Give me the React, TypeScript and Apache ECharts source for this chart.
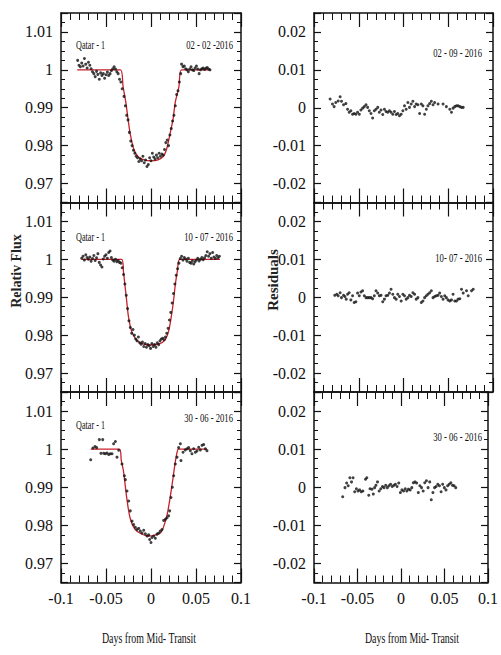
import React, { useEffect, useRef } from 'react';
import * as echarts from 'echarts';

// ---------- data ----------
const flux1: [number, number][] = [
  [-0.0815, 1.0025], [-0.08, 1.0012], [-0.0785, 1.0008], [-0.077, 1.0018], [-0.0755, 1.001], [-0.074, 1.003],
  [-0.0725, 1.0015], [-0.071, 1.0005], [-0.0695, 1.002], [-0.068, 1.0012], [-0.0665, 1.0003], [-0.065, 0.9995],
  [-0.0635, 0.999], [-0.062, 0.9982], [-0.0605, 0.9996], [-0.059, 0.9988], [-0.0575, 0.9975], [-0.056, 0.9992],
  [-0.0545, 0.9985], [-0.053, 0.999], [-0.0515, 0.9978], [-0.05, 0.9987], [-0.0485, 0.9994], [-0.047, 0.9985],
  [-0.0455, 0.999], [-0.044, 0.9998], [-0.0425, 1.0003], [-0.041, 1.0008], [-0.0395, 1.0002], [-0.038, 0.9995],
  [-0.0365, 0.999], [-0.035, 0.9975], [-0.0335, 0.9968], [-0.032, 0.995], [-0.03, 0.993], [-0.0285, 0.9905],
  [-0.027, 0.988], [-0.0255, 0.9868], [-0.024, 0.9835], [-0.0225, 0.9812], [-0.021, 0.98], [-0.0195, 0.9788],
  [-0.018, 0.978], [-0.0165, 0.9772], [-0.015, 0.9768], [-0.0135, 0.9758], [-0.012, 0.9765], [-0.0105, 0.976],
  [-0.009, 0.9772], [-0.0075, 0.9755], [-0.006, 0.9762], [-0.0045, 0.9745], [-0.003, 0.975], [-0.0015, 0.9768],
  [0, 0.976], [0.0015, 0.978], [0.003, 0.977], [0.0045, 0.9765], [0.006, 0.9775], [0.0075, 0.9768],
  [0.009, 0.978], [0.0105, 0.9772], [0.012, 0.9778], [0.0135, 0.9775], [0.015, 0.979], [0.0165, 0.9808],
  [0.018, 0.9815], [0.0195, 0.98], [0.021, 0.9828], [0.0225, 0.9845], [0.024, 0.9865], [0.0255, 0.988],
  [0.027, 0.9905], [0.0285, 0.9935], [0.03, 0.9945], [0.0315, 0.9968], [0.033, 0.999], [0.034, 1.0015],
  [0.0355, 1.0008], [0.037, 1.001], [0.0385, 1.0003], [0.04, 1.0], [0.0415, 0.9995], [0.043, 1.0002],
  [0.0445, 1.0008], [0.046, 1.0], [0.0475, 0.9998], [0.049, 1.0005], [0.0505, 1.001], [0.052, 1.0002],
  [0.0535, 0.999], [0.055, 1.0], [0.0565, 1.0003], [0.058, 1.0005], [0.0595, 1.0001], [0.061, 1.0004],
  [0.0625, 1.0006], [0.064, 1.0002], [0.0655, 1.0],
];
const model1: [number, number][] = [
  [-0.082, 1.0], [-0.034, 1.0], [-0.031, 0.9955], [-0.028, 0.9915], [-0.0255, 0.987], [-0.023, 0.983],
  [-0.019, 0.979], [-0.014, 0.977], [-0.007, 0.9762], [0, 0.976], [0.007, 0.9762], [0.013, 0.977],
  [0.017, 0.9788], [0.021, 0.983], [0.0245, 0.987], [0.027, 0.9915], [0.031, 0.9955], [0.034, 1.0], [0.066, 1.0],
];
const resid1: [number, number][] = [
  [-0.082, 0.0023], [-0.0794, 0.001], [-0.0775, 0.0003], [-0.0757, 0.0014], [-0.073, 0.0018], [-0.0708, 0.0029],
  [-0.0693, 0.0017], [-0.067, 0.0008], [-0.0644, 0.0011], [-0.0625, -0.0004], [-0.0607, -0.0012], [-0.0588, -0.0008],
  [-0.0569, -0.0017], [-0.0551, -0.0015], [-0.0532, -0.0017], [-0.0513, -0.0012], [-0.0494, -0.0017], [-0.0476, -0.0006],
  [-0.0457, -0.0001], [-0.0438, 0.0003], [-0.0419, 0.0008], [-0.0401, 0.0001], [-0.0382, -0.0008], [-0.0363, -0.0015],
  [-0.0345, -0.0027], [-0.0326, -0.0008], [-0.0307, -0.0004], [-0.0288, 0.0001], [-0.027, -0.0012], [-0.0251, -0.0006],
  [-0.0232, -0.0018], [-0.0213, -0.0004], [-0.0195, -0.001], [-0.0176, -0.0012], [-0.0157, -0.0008], [-0.0139, -0.0012],
  [-0.012, -0.0017], [-0.0101, -0.001], [-0.0082, -0.0018], [-0.0064, -0.0015], [-0.0045, -0.0021], [-0.0026, -0.0017],
  [-0.0007, -0.0008], [0.0011, 0.0005], [0.003, -0.0004], [0.0049, 0.0014], [0.0067, 0.0001], [0.0086, 0.001],
  [0.0105, 0.0017], [0.0124, 0.0003], [0.0142, 0.001], [0.0161, 0.0008], [0.018, -0.0015], [0.0199, 0.001],
  [0.0217, 0.0005], [0.0236, -0.0017], [0.0255, -0.0004], [0.0273, 0.0005], [0.0292, 0.0011], [0.0311, 0.0017],
  [0.033, 0.0008], [0.0348, 0.0014], [0.0386, 0.001], [0.0442, 0.001], [0.0479, 0.0003], [0.0517, -0.0004],
  [0.0536, -0.0012], [0.0554, -0.0001], [0.0573, 0.0003], [0.0592, 0.0005], [0.061, 0.0005], [0.0629, 0.0003],
  [0.0648, 0.0001], [0.0667, 0.0001],
];

const flux2: [number, number][] = [
  [-0.077, 1.0003], [-0.0755, 1.0008], [-0.074, 0.9998], [-0.0725, 1.0012], [-0.071, 1.0005], [-0.0695, 1.0],
  [-0.068, 1.0006], [-0.0665, 0.9995], [-0.065, 1.0002], [-0.0635, 1.001], [-0.062, 0.9997], [-0.0605, 1.0004],
  [-0.059, 1.0015], [-0.0575, 0.9992], [-0.056, 0.9985], [-0.0545, 0.998], [-0.053, 1.0001], [-0.0515, 1.0008],
  [-0.05, 1.0012], [-0.0485, 1.0003], [-0.047, 1.0018], [-0.0455, 1.0022], [-0.044, 1.0005], [-0.0425, 0.9998],
  [-0.041, 0.9995], [-0.0395, 1.0], [-0.038, 0.9994], [-0.0365, 0.9997], [-0.035, 0.9992], [-0.0335, 0.999],
  [-0.032, 0.9978], [-0.0305, 0.996], [-0.029, 0.9935], [-0.0275, 0.9905], [-0.026, 0.987], [-0.0245, 0.9838],
  [-0.023, 0.982], [-0.0215, 0.9805], [-0.02, 0.9815], [-0.0185, 0.98], [-0.017, 0.979], [-0.0155, 0.9785],
  [-0.014, 0.9795], [-0.0125, 0.978], [-0.011, 0.9776], [-0.0095, 0.9782], [-0.008, 0.977], [-0.0065, 0.9778],
  [-0.005, 0.9768], [-0.0035, 0.9775], [-0.002, 0.9772], [-0.0005, 0.9765], [0.001, 0.9778], [0.0025, 0.977],
  [0.004, 0.9775], [0.0055, 0.9768], [0.007, 0.978], [0.0085, 0.9775], [0.01, 0.9785], [0.0115, 0.979],
  [0.013, 0.9792], [0.0145, 0.9788], [0.016, 0.9795], [0.0175, 0.9805], [0.019, 0.9818], [0.0205, 0.984],
  [0.022, 0.986], [0.0235, 0.9885], [0.025, 0.991], [0.0265, 0.9935], [0.028, 0.9958], [0.0295, 0.9975],
  [0.031, 0.999], [0.0325, 1.0002], [0.034, 1.0008], [0.0355, 0.9998], [0.037, 1.0005], [0.0385, 1.0001],
  [0.04, 0.9995], [0.0415, 1.0003], [0.043, 0.9992], [0.0445, 0.999], [0.046, 0.9996], [0.0475, 0.9988],
  [0.049, 0.9994], [0.0505, 0.9998], [0.052, 1.0003], [0.0535, 0.9996], [0.055, 1.0], [0.0565, 1.0005],
  [0.058, 0.9999], [0.0595, 1.0004], [0.061, 1.001], [0.0625, 1.002], [0.064, 1.0008], [0.0655, 1.0015],
  [0.067, 1.0003], [0.0685, 1.0018], [0.07, 1.0006], [0.0715, 1.0002], [0.073, 1.001], [0.0745, 1.0004],
  [0.076, 1.0008],
];
const model2: [number, number][] = [
  [-0.077, 1.0], [-0.0326, 1.0], [-0.0305, 0.9965], [-0.029, 0.9933], [-0.027, 0.989], [-0.025, 0.9848],
  [-0.0215, 0.981], [-0.016, 0.9787], [-0.009, 0.9777], [0, 0.9774], [0.009, 0.9777], [0.0155, 0.9787],
  [0.0195, 0.981], [0.0225, 0.9848], [0.025, 0.989], [0.027, 0.9933], [0.0295, 0.9972], [0.032, 1.0], [0.0767, 1.0],
];
const resid2: [number, number][] = [
  [-0.0768, 0.0005], [-0.0745, 0.0008], [-0.073, 0.0004], [-0.0708, 0.0012], [-0.0693, -0.0001], [-0.067, 0.0005],
  [-0.0655, 0.0002], [-0.064, -0.0005], [-0.0625, 0.0008], [-0.0607, 0.0012], [-0.0588, -0.0007], [-0.0569, 0.0004],
  [-0.0551, -0.0014], [-0.0532, -0.0012], [-0.0513, 0.0011], [-0.0494, 0.0004], [-0.0476, 0.0014], [-0.0457, 0.0017],
  [-0.0438, 0.0004], [-0.0419, -0.0001], [-0.0401, -0.0001], [-0.0382, -0.0001], [-0.0363, -0.0001], [-0.0345, -0.0004],
  [-0.0326, 0.0004], [-0.0307, 0.0017], [-0.0288, 0.0011], [-0.027, 0.0004], [-0.0251, 0.0005], [-0.0232, -0.0012],
  [-0.0213, -0.0005], [-0.0195, 0.0004], [-0.0176, 0.0005], [-0.0157, 0.0011], [-0.0139, 0.0021], [-0.012, 0.0008],
  [-0.0101, -0.0001], [-0.0082, -0.0005], [-0.0064, 0.0008], [-0.0045, 0.0002], [-0.0026, -0.001], [-0.0007, 0.0008],
  [0.0011, 0.0004], [0.003, -0.0005], [0.0049, -0.0001], [0.0067, 0.0005], [0.0086, 0.0002], [0.0105, 0.0012],
  [0.0124, 0.0008], [0.0142, -0.0005], [0.0161, -0.0001], [0.0199, -0.0014], [0.0217, -0.001], [0.0236, -0.0001],
  [0.0255, 0.0004], [0.0273, 0.0008], [0.0292, 0.0012], [0.0311, 0.0017], [0.033, -0.0001], [0.0348, 0.0002],
  [0.0367, 0.0004], [0.0386, 0.0005], [0.0404, 0.0011], [0.0423, 0.0002], [0.0442, -0.0005], [0.0461, 0.0004],
  [0.0479, -0.0001], [0.0498, -0.0007], [0.0517, -0.001], [0.0536, -0.0007], [0.0554, 0.0008], [0.0573, -0.001],
  [0.0592, -0.001], [0.061, -0.0005], [0.0629, -0.0004], [0.0648, 0.0021], [0.0667, 0.0011], [0.0704, 0.0017],
  [0.0723, 0.0004], [0.076, 0.0017], [0.0779, 0.0021],
];

const flux3: [number, number][] = [
  [-0.067, 0.9972], [-0.0645, 1.0003], [-0.0622, 1.0007], [-0.0604, 1.0004], [-0.0574, 1.0025], [-0.0556, 0.9989],
  [-0.0537, 1.0025], [-0.0526, 0.9989], [-0.0507, 0.9988], [-0.0489, 0.999], [-0.047, 0.9986], [-0.0452, 0.9988],
  [-0.0433, 0.9988], [-0.0415, 1.0014], [-0.0396, 1.002], [-0.0378, 0.9979], [-0.0359, 0.9997], [-0.0322, 0.9961],
  [-0.0296, 0.993], [-0.0285, 0.992], [-0.0267, 0.989], [-0.0248, 0.9864], [-0.023, 0.9838], [-0.0211, 0.9811],
  [-0.0193, 0.9802], [-0.0174, 0.9795], [-0.0156, 0.9789], [-0.0137, 0.9792], [-0.0119, 0.9785], [-0.01, 0.978],
  [-0.0081, 0.9787], [-0.0063, 0.9778], [-0.0044, 0.9772], [-0.0026, 0.9775], [-0.0015, 0.9763], [0, 0.9755],
  [0.0011, 0.9768], [0.003, 0.9772], [0.0048, 0.9766], [0.0067, 0.9777], [0.0085, 0.978], [0.0104, 0.9785],
  [0.0122, 0.9789], [0.0141, 0.9813], [0.016, 0.9816], [0.0178, 0.982], [0.0196, 0.9825], [0.0207, 0.9838],
  [0.0222, 0.9873], [0.0237, 0.99], [0.0252, 0.993], [0.027, 0.9961], [0.0289, 0.9979], [0.0307, 1.0004],
  [0.0326, 1.0014], [0.0333, 0.997], [0.0356, 0.9992], [0.0381, 0.9998], [0.04, 1.0001], [0.0418, 1.0004],
  [0.0437, 0.9996], [0.0455, 0.9988], [0.0474, 1.0001], [0.0493, 0.9992], [0.0511, 0.9995], [0.053, 1.0005],
  [0.0548, 0.9998], [0.0567, 1.001], [0.0585, 1.0012], [0.0604, 1.0001], [0.0622, 0.9996],
];
const model3: [number, number][] = [
  [-0.067, 1.0], [-0.035, 1.0], [-0.033, 0.997], [-0.0307, 0.9944], [-0.027, 0.9873], [-0.0233, 0.982],
  [-0.018, 0.979], [-0.011, 0.9778], [-0.003, 0.9772], [0.004, 0.9774], [0.0105, 0.978], [0.0137, 0.9794],
  [0.0181, 0.983], [0.023, 0.99], [0.0267, 0.9962], [0.029, 0.9992], [0.0305, 1.0], [0.062, 1.0],
];
const resid3: [number, number][] = [
  [-0.067, -0.0025], [-0.0644, -0.0001], [-0.0625, 0.0011], [-0.0607, 0.0004], [-0.0588, 0.0025], [-0.0569, 0.0014],
  [-0.0551, 0.0025], [-0.0532, -0.0012], [-0.0513, -0.0004], [-0.0494, -0.001], [-0.0476, -0.0007], [-0.0457, -0.0012],
  [-0.0438, -0.001], [-0.0408, 0.0021], [-0.0393, 0.0025], [-0.0371, -0.0021], [-0.0356, -0.0004], [-0.0333, -0.0005],
  [-0.0318, -0.0018], [-0.0303, -0.0001], [-0.0288, 0.0005], [-0.027, 0.0014], [-0.0251, -0.001], [-0.0232, -0.0004],
  [-0.0213, 0.0002], [-0.0195, -0.0001], [-0.0176, 0.0005], [-0.0157, -0.0001], [-0.0139, 0.0004], [-0.012, 0.0008],
  [-0.0101, 0.0002], [-0.0082, 0.0005], [-0.0064, 0.0008], [-0.0045, 0.0002], [-0.0026, 0.0011], [-0.0007, -0.0014],
  [0.0011, -0.0007], [0.003, -0.001], [0.0049, -0.0004], [0.0067, -0.001], [0.0086, -0.0005], [0.0105, -0.0007],
  [0.0124, -0.0001], [0.0142, 0.0012], [0.0161, 0.0014], [0.018, 0.0011], [0.0199, -0.0014], [0.0217, 0.0004],
  [0.0236, -0.0001], [0.0255, -0.001], [0.0273, 0.0012], [0.0292, 0.0017], [0.0311, -0.0001], [0.033, 0.0014],
  [0.0348, -0.0033], [0.0367, -0.0014], [0.0386, -0.0001], [0.0404, 0.0002], [0.0423, 0.0008], [0.0442, 0.0004],
  [0.0461, -0.0012], [0.0479, 0.0008], [0.0498, -0.0001], [0.0517, -0.0007], [0.0536, 0.0004], [0.0554, 0.0008],
  [0.0573, 0.0012], [0.0592, 0.0005], [0.061, 0.0004], [0.0629, -0.0001],
];

const xRange = [-0.1, 0.1];
const fluxRange = [0.965, 1.015];
const residRange = [-0.025, 0.025];
const leftDates = ['02 - 02 -2016', '10 - 07 - 2016', '30 - 06 - 2016'];
const rightDates = ['02 - 09 - 2016', '10- 07 - 2016', '30 - 06 - 2016'];
const starName = 'Qatar - 1';
const xTitle = 'Days from Mid- Transit';
const yTitleLeft = 'Relativ Flux';
const yTitleRight = 'Residuals';

const FONT = 'Liberation Serif, Times New Roman, serif';
const INK = '#111';

export default function App() {
  const ref = useRef<HTMLDivElement>(null);
  useEffect(() => {
    if (!ref.current) return;
    const chart = echarts.init(ref.current, undefined, { renderer: 'svg' });

    const rows = [
      { top: 13, height: 189.5 },
      { top: 202.5, height: 189.5 },
      { top: 392, height: 190.5 },
    ];
    const cols = [
      { left: 61, width: 180 },
      { left: 314, width: 179 },
    ];
    const grids: any[] = [];
    const xAxis: any[] = [];
    const yAxis: any[] = [];
    const series: any[] = [];
    const fluxSets = [flux1, flux2, flux3];
    const modelSets = [model1, model2, model3];
    const residSets = [resid1, resid2, resid3];

    rows.forEach((r, ri) => {
      cols.forEach((c, ci) => {
        const gi = grids.length;
        grids.push({ left: c.left, top: r.top, width: c.width, height: r.height });
        const xBase = () => ({
          type: 'value', gridIndex: gi, min: xRange[0], max: xRange[1], interval: 0.05,
          splitLine: { show: false },
          axisLine: { show: true, onZero: false, lineStyle: { color: INK, width: 1.5 } },
          axisTick: { show: true, inside: true, length: 14, lineStyle: { color: INK, width: 1.2 } },
          minorTick: { show: true, splitNumber: 5, length: 7, lineStyle: { color: INK, width: 1 } },
        });
        xAxis.push({
          ...xBase(), position: 'bottom',
          axisLabel: { show: ri === 2, color: INK, fontFamily: FONT, fontSize: 16, margin: 8 },
        });
        xAxis.push({ ...xBase(), position: 'top', axisLabel: { show: false } });
        const yr = ci === 0 ? fluxRange : residRange;
        const yBase = () => ({
          type: 'value', gridIndex: gi, min: yr[0], max: yr[1], splitNumber: 5,
          splitLine: { show: false },
          axisLine: { show: true, onZero: false, lineStyle: { color: INK, width: 1.5 } },
          axisTick: { show: true, inside: true, length: 7, lineStyle: { color: INK, width: 1.2 } },
          minorTick: { show: true, splitNumber: 4, length: 4, lineStyle: { color: INK, width: 1 } },
        });
        yAxis.push({
          ...yBase(), position: 'left',
          axisLabel: { show: true, color: INK, fontFamily: FONT, fontSize: 16, margin: 8, showMinLabel: false, showMaxLabel: false },
        });
        yAxis.push({ ...yBase(), position: 'right', axisLabel: { show: false } });

        if (ci === 0) {
          series.push({
            type: 'line', xAxisIndex: 2 * gi, yAxisIndex: 2 * gi, data: modelSets[ri],
            symbol: 'none', showSymbol: false, smooth: 0.3, silent: true, z: 2,
            lineStyle: { color: '#c8202a', width: 1.3 },
          });
          series.push({
            type: 'scatter', xAxisIndex: 2 * gi, yAxisIndex: 2 * gi, data: fluxSets[ri],
            symbol: 'circle', symbolSize: 3, silent: true, z: 3,
            itemStyle: { color: INK },
          });
        } else {
          series.push({
            type: 'scatter', xAxisIndex: 2 * gi, yAxisIndex: 2 * gi, data: residSets[ri],
            symbol: 'circle', symbolSize: 3, silent: true, z: 3,
            itemStyle: { color: INK },
          });
        }
      });
    });

    const txt = (text: string, x: number, y: number, align: string, size: number, sx: number) => ({
      type: 'text', x, y, scaleX: sx, silent: true,
      style: { text, fill: INK, fontFamily: FONT, fontSize: size, align, verticalAlign: 'middle' },
    });

    const leftY = [45, 237, 425];
    const leftDateY = [45, 237, 418];
    const rightDateY = [53, 258, 437];
    const graphic: any[] = [];
    for (let i = 0; i < 3; i++) {
      graphic.push(txt(starName, 76, leftY[i], 'left', 12, 0.68));
      graphic.push(txt(leftDates[i], 233, leftDateY[i], 'right', 12, 0.72));
      graphic.push(txt(rightDates[i], 482, rightDateY[i], 'right', 12, 0.72));
    }
    graphic.push(txt(xTitle, 149, 638, 'center', 15, 0.66));
    graphic.push(txt(xTitle, 412, 638, 'center', 15, 0.66));
    graphic.push({
      type: 'text', x: 16, y: 271, rotation: Math.PI / 2, silent: true,
      style: { text: yTitleLeft, fill: '#222', fontFamily: FONT, fontSize: 14, fontWeight: 'bold', align: 'center', verticalAlign: 'middle' },
    });
    graphic.push({
      type: 'text', x: 273, y: 280, rotation: Math.PI / 2, silent: true,
      style: { text: yTitleRight, fill: '#222', fontFamily: FONT, fontSize: 15, fontWeight: 'bold', align: 'center', verticalAlign: 'middle' },
    });

    chart.setOption({
      animation: false,
      grid: grids,
      xAxis,
      yAxis,
      series,
      graphic,
    });
    return () => chart.dispose();
  }, []);
  return <div ref={ref} style={{ position: 'absolute', left: 0, top: 0, width: 501, height: 655, background: '#fff' }} />;
}
